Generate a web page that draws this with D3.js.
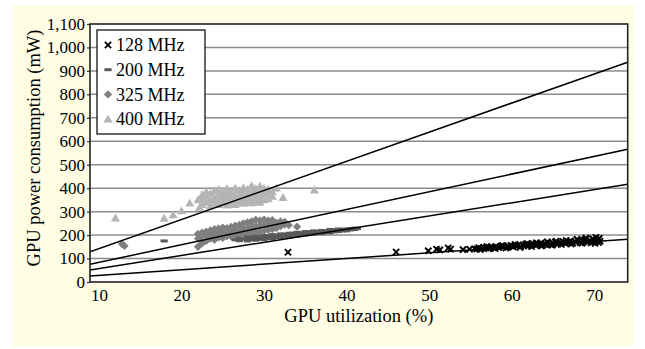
<!DOCTYPE html>
<html>
<head>
<meta charset="utf-8">
<script src="https://cdn.jsdelivr.net/npm/d3@7"></script>
<style>
  body { margin: 0; background: #fff; }
  text { font-family: "Liberation Serif", "Times New Roman", serif; fill: #000; }
</style>
</head>
<body>
<script>
// series names, in drawing order of the legend
const freqs = ["128 MHz", "200 MHz", "325 MHz", "400 MHz"];

const xTicks = [10, 20, 30, 40, 50, 60, 70];
const yTicks = [0, 100, 200, 300, 400, 500, 600, 700, 800, 900, 1000, 1100];

// [utilization %, power mW]
const pts128 = [
  [32.9, 127], [46.0, 128], [49.9, 133], [50.9, 140], [51.3, 137], [52.3, 145], [52.6, 140],
  [54.1, 138], [54.9, 140], [55.5, 142],
  [55.8, 141], [56.0, 146], [56.3, 143], [56.6, 148], [56.9, 145], [57.2, 142], [57.5, 149],
  [57.8, 146], [58.1, 151], [58.4, 147], [58.7, 153], [59.0, 149], [59.3, 145], [59.6, 152],
  [59.9, 156], [60.2, 150], [60.5, 155], [60.8, 158], [61.1, 152], [61.4, 157], [61.7, 161],
  [62.0, 154], [62.3, 159], [62.6, 163], [62.9, 156], [63.2, 161], [63.5, 166], [63.8, 158],
  [64.1, 163], [64.4, 168], [64.7, 160], [65.0, 165], [65.3, 170], [65.6, 162], [65.9, 167],
  [66.2, 173], [66.5, 164], [66.8, 169], [67.1, 175], [67.4, 166], [67.7, 172], [68.0, 178],
  [68.3, 168], [68.6, 174], [68.9, 181], [69.2, 170], [69.5, 176], [69.8, 184], [70.1, 165],
  [70.1, 172], [70.4, 179], [70.6, 186], [70.7, 174],
  [58, 148], [60, 153], [61.5, 156], [63, 160], [64, 162], [66, 166], [67, 170], [69, 174],
  [56.2, 139], [57.0, 151], [58.0, 143], [58.9, 156], [59.5, 148], [60.4, 160], [61.0, 147],
  [61.9, 164], [62.4, 151], [63.0, 167], [63.6, 154], [64.3, 171], [64.9, 157], [65.4, 174],
  [66.0, 160], [66.6, 177], [67.2, 162], [67.9, 182], [68.5, 165], [69.0, 187], [69.6, 167],
  [70.2, 190], [70.5, 168], [69.9, 180], [68.8, 177]
];

const pts200 = [
  [17.9, 175], [26.5, 180], [27, 176], [27, 186], [27.5, 182], [28, 175], [28, 185], [28, 192],
  [28.5, 180], [28.5, 190], [29, 178], [29, 188], [29, 195], [29.5, 182], [29.5, 192],
  [30, 180], [30, 190], [30, 198], [30.5, 186], [30.5, 196], [31, 184], [31, 194], [31, 202],
  [31.5, 190], [31.5, 200], [32, 188], [32, 198], [32, 205], [32.5, 194], [32.5, 204],
  [33, 192], [33, 200], [33, 208], [33.5, 198], [33.5, 208], [34, 196], [34, 205], [34, 212],
  [34.5, 202], [34.5, 210], [35, 200], [35, 208], [35, 215], [35.5, 205], [35.5, 214],
  [36, 204], [36, 212], [36, 218], [36.5, 208], [36.5, 216], [37, 206], [37, 214], [37, 220],
  [37.5, 210], [37.5, 218], [38, 210], [38, 218], [38, 224], [38.5, 214], [38.5, 222],
  [39, 215], [39, 222], [39, 226], [39.5, 218], [39.5, 225], [40, 218], [40, 226],
  [40.5, 222], [40.5, 228], [41, 224], [41, 230], [41.3, 228]
];

const pts325 = [
  [12.8, 162], [13.1, 154],
  [22, 150], [22, 185], [22, 205], [22.5, 165], [22.5, 195], [22.5, 210],
  [23, 175], [23, 200], [23, 215], [23.5, 185], [23.5, 205], [23.5, 220],
  [24, 180], [24, 200], [24, 215], [24, 225], [24.5, 190], [24.5, 210], [24.5, 228],
  [25, 188], [25, 205], [25, 222], [25, 232], [25.5, 195], [25.5, 212], [25.5, 230],
  [26, 195], [26, 215], [26, 235], [26.5, 200], [26.5, 220], [26.5, 240],
  [27, 200], [27, 222], [27, 244], [27.5, 205], [27.5, 228], [27.5, 250],
  [28, 208], [28, 230], [28, 254], [28.5, 210], [28.5, 235], [28.5, 258],
  [29, 212], [29, 238], [29, 265], [29.5, 215], [29.5, 240], [29.5, 262],
  [30, 218], [30, 242], [30, 266], [30.5, 222], [30.5, 245], [30.5, 262],
  [31, 225], [31, 248], [31, 264], [31.5, 230], [31.5, 252], [32, 238], [32, 258],
  [32.5, 245], [32.5, 256], [33, 242], [34, 236]
];

const pts400 = [
  [12, 273], [17.9, 272], [19, 286], [20, 303], [21, 336], [22, 350], [22.2, 318],
  [22.5, 330], [22.5, 355], [22.5, 372], [23, 340], [23, 365], [23, 385],
  [23.5, 325], [23.5, 350], [23.5, 378], [24, 335], [24, 360], [24, 390],
  [24.5, 330], [24.5, 348], [24.5, 370], [24.5, 395], [25, 340], [25, 362], [25, 380],
  [25.5, 328], [25.5, 352], [25.5, 375], [25.5, 398], [26, 335], [26, 358], [26, 385],
  [26.5, 330], [26.5, 350], [26.5, 372], [26.5, 400], [27, 340], [27, 365], [27, 390],
  [27.5, 335], [27.5, 355], [27.5, 378], [27.5, 402], [28, 342], [28, 368], [28, 395],
  [28.5, 338], [28.5, 360], [28.5, 385], [28.5, 410], [29, 345], [29, 372], [29, 398],
  [29.5, 340], [29.5, 362], [29.5, 388], [29.5, 408], [30, 350], [30, 375], [30, 400],
  [30.5, 355], [30.5, 380], [30.5, 395], [31, 365], [31, 385], [31.5, 400],
  [32.3, 360], [36.1, 392]
];

// fitted lines, power = intercept + slope * utilization
const trendIntercept = [4.2, 0.9, 8.3, 18.3];
const trendSlope = [2.40, 5.61, 7.53, 12.41];

const colors = ["#000000", "#595959", "#7f7f7f", "#b4b4b4"];

const width = 645;
const height = 349;
const margin = { top: 24, right: 17.3, bottom: 67, left: 90 };

const x = d3.scaleLinear()
  .domain([8.92, 74.05])
  .range([margin.left, width - margin.right]);

const y = d3.scaleLinear()
  .domain([0, 1100])
  .range([height - margin.bottom, margin.top]);

const svg = d3.create("svg")
  .attr("width", width)
  .attr("height", height);

// pale yellow chart area
svg.append("rect")
  .attr("x", 12).attr("y", 5)
  .attr("width", 622).attr("height", 341)
  .attr("fill", "#fffde4");

svg.append("rect")
  .attr("x", margin.left).attr("y", margin.top)
  .attr("width", width - margin.left - margin.right)
  .attr("height", height - margin.top - margin.bottom)
  .attr("fill", "#fff");

// gridlines
svg.append("g")
  .selectAll("line")
  .data(yTicks.filter(d => d > 0 && d < 1100))
  .join("line")
  .attr("x1", margin.left).attr("x2", width - margin.right)
  .attr("y1", d => y(d)).attr("y2", d => y(d))
  .attr("stroke", "#8c8c8c")
  .attr("stroke-width", 1.5);

// y axis
const gy = svg.append("g")
  .attr("transform", `translate(${margin.left},0)`)
  .call(d3.axisLeft(y).tickValues(yTicks).tickSize(3).tickPadding(2).tickFormat(d3.format(",")));
gy.select(".domain").remove();
gy.selectAll(".tick line").attr("stroke", "#333").attr("stroke-width", 1.2);
gy.selectAll("text").attr("font-size", 17).attr("font-family", null);

// x axis
const gx = svg.append("g")
  .attr("transform", `translate(0,${height - margin.bottom})`)
  .call(d3.axisBottom(x).tickValues(xTicks).tickSize(0).tickPadding(7));
gx.select(".domain").remove();
gx.selectAll("text").attr("font-size", 17).attr("font-family", null);

svg.append("clipPath")
  .attr("id", "clip")
  .append("rect")
  .attr("x", margin.left).attr("y", margin.top)
  .attr("width", width - margin.left - margin.right)
  .attr("height", height - margin.top - margin.bottom);

const plot = svg.append("g").attr("clip-path", "url(#clip)");

// markers
const triangle = d3.symbol().type(d3.symbolTriangle).size(36)();
const diamond = d3.symbol().type(d3.symbolSquare).size(34)();

function drawMarker(sel, i) {
  if (i === 0) {
    sel.append("path")
      .attr("d", "M-3.1,-3.1L3.1,3.1M-3.1,3.1L3.1,-3.1")
      .attr("stroke", colors[0]).attr("stroke-width", 1.9).attr("fill", "none");
  } else if (i === 1) {
    sel.append("rect")
      .attr("x", -3.6).attr("y", -1.5).attr("width", 7.2).attr("height", 3)
      .attr("fill", colors[1]);
  } else if (i === 2) {
    sel.append("path").attr("d", diamond).attr("transform", "rotate(45)").attr("fill", colors[2]);
  } else {
    sel.append("path").attr("d", triangle).attr("transform", "translate(0,0.8)").attr("fill", colors[3]);
  }
}

const series = [pts128, pts200, pts325, pts400];
[3, 2, 1, 0].forEach(i => {
  plot.append("g")
    .selectAll("g")
    .data(series[i])
    .join("g")
    .attr("transform", d => `translate(${x(d[0])},${y(d[1])})`)
    .each(function () { drawMarker(d3.select(this), i); });
});

// trend lines across the full x range
const [x0, x1] = x.domain();
plot.append("g")
  .selectAll("line")
  .data(trendSlope)
  .join("line")
  .attr("x1", x(x0)).attr("x2", x(x1))
  .attr("y1", (s, i) => y(trendIntercept[i] + s * x0))
  .attr("y2", (s, i) => y(trendIntercept[i] + s * x1))
  .attr("stroke", "#000")
  .attr("stroke-width", 1.5);

// plot frame
svg.append("rect")
  .attr("x", margin.left).attr("y", margin.top)
  .attr("width", width - margin.left - margin.right)
  .attr("height", height - margin.top - margin.bottom)
  .attr("fill", "none")
  .attr("stroke", "#222")
  .attr("stroke-width", 1.6);

// legend
const legend = svg.append("g");
legend.append("rect")
  .attr("x", 97).attr("y", 30)
  .attr("width", 108).attr("height", 104)
  .attr("fill", "#fff")
  .attr("stroke", "#000")
  .attr("stroke-width", 1.2);

freqs.forEach((f, i) => {
  const cy = 45 + i * 24.7;
  const m = legend.append("g").attr("transform", `translate(108,${cy})`);
  drawMarker(m, i);
  legend.append("text")
    .attr("x", 116).attr("y", cy)
    .attr("dy", "0.35em")
    .attr("font-size", 18)
    .text(f);
});

// axis titles
svg.append("text")
  .attr("x", (margin.left + width - margin.right) / 2)
  .attr("y", 322)
  .attr("text-anchor", "middle")
  .attr("font-size", 18.5)
  .text("GPU utilization (%)");

svg.append("text")
  .attr("transform", "translate(40,148) rotate(-90)")
  .attr("text-anchor", "middle")
  .attr("font-size", 18.5)
  .text("GPU power consumption (mW)");

document.body.appendChild(svg.node());
</script>
</body>
</html>
